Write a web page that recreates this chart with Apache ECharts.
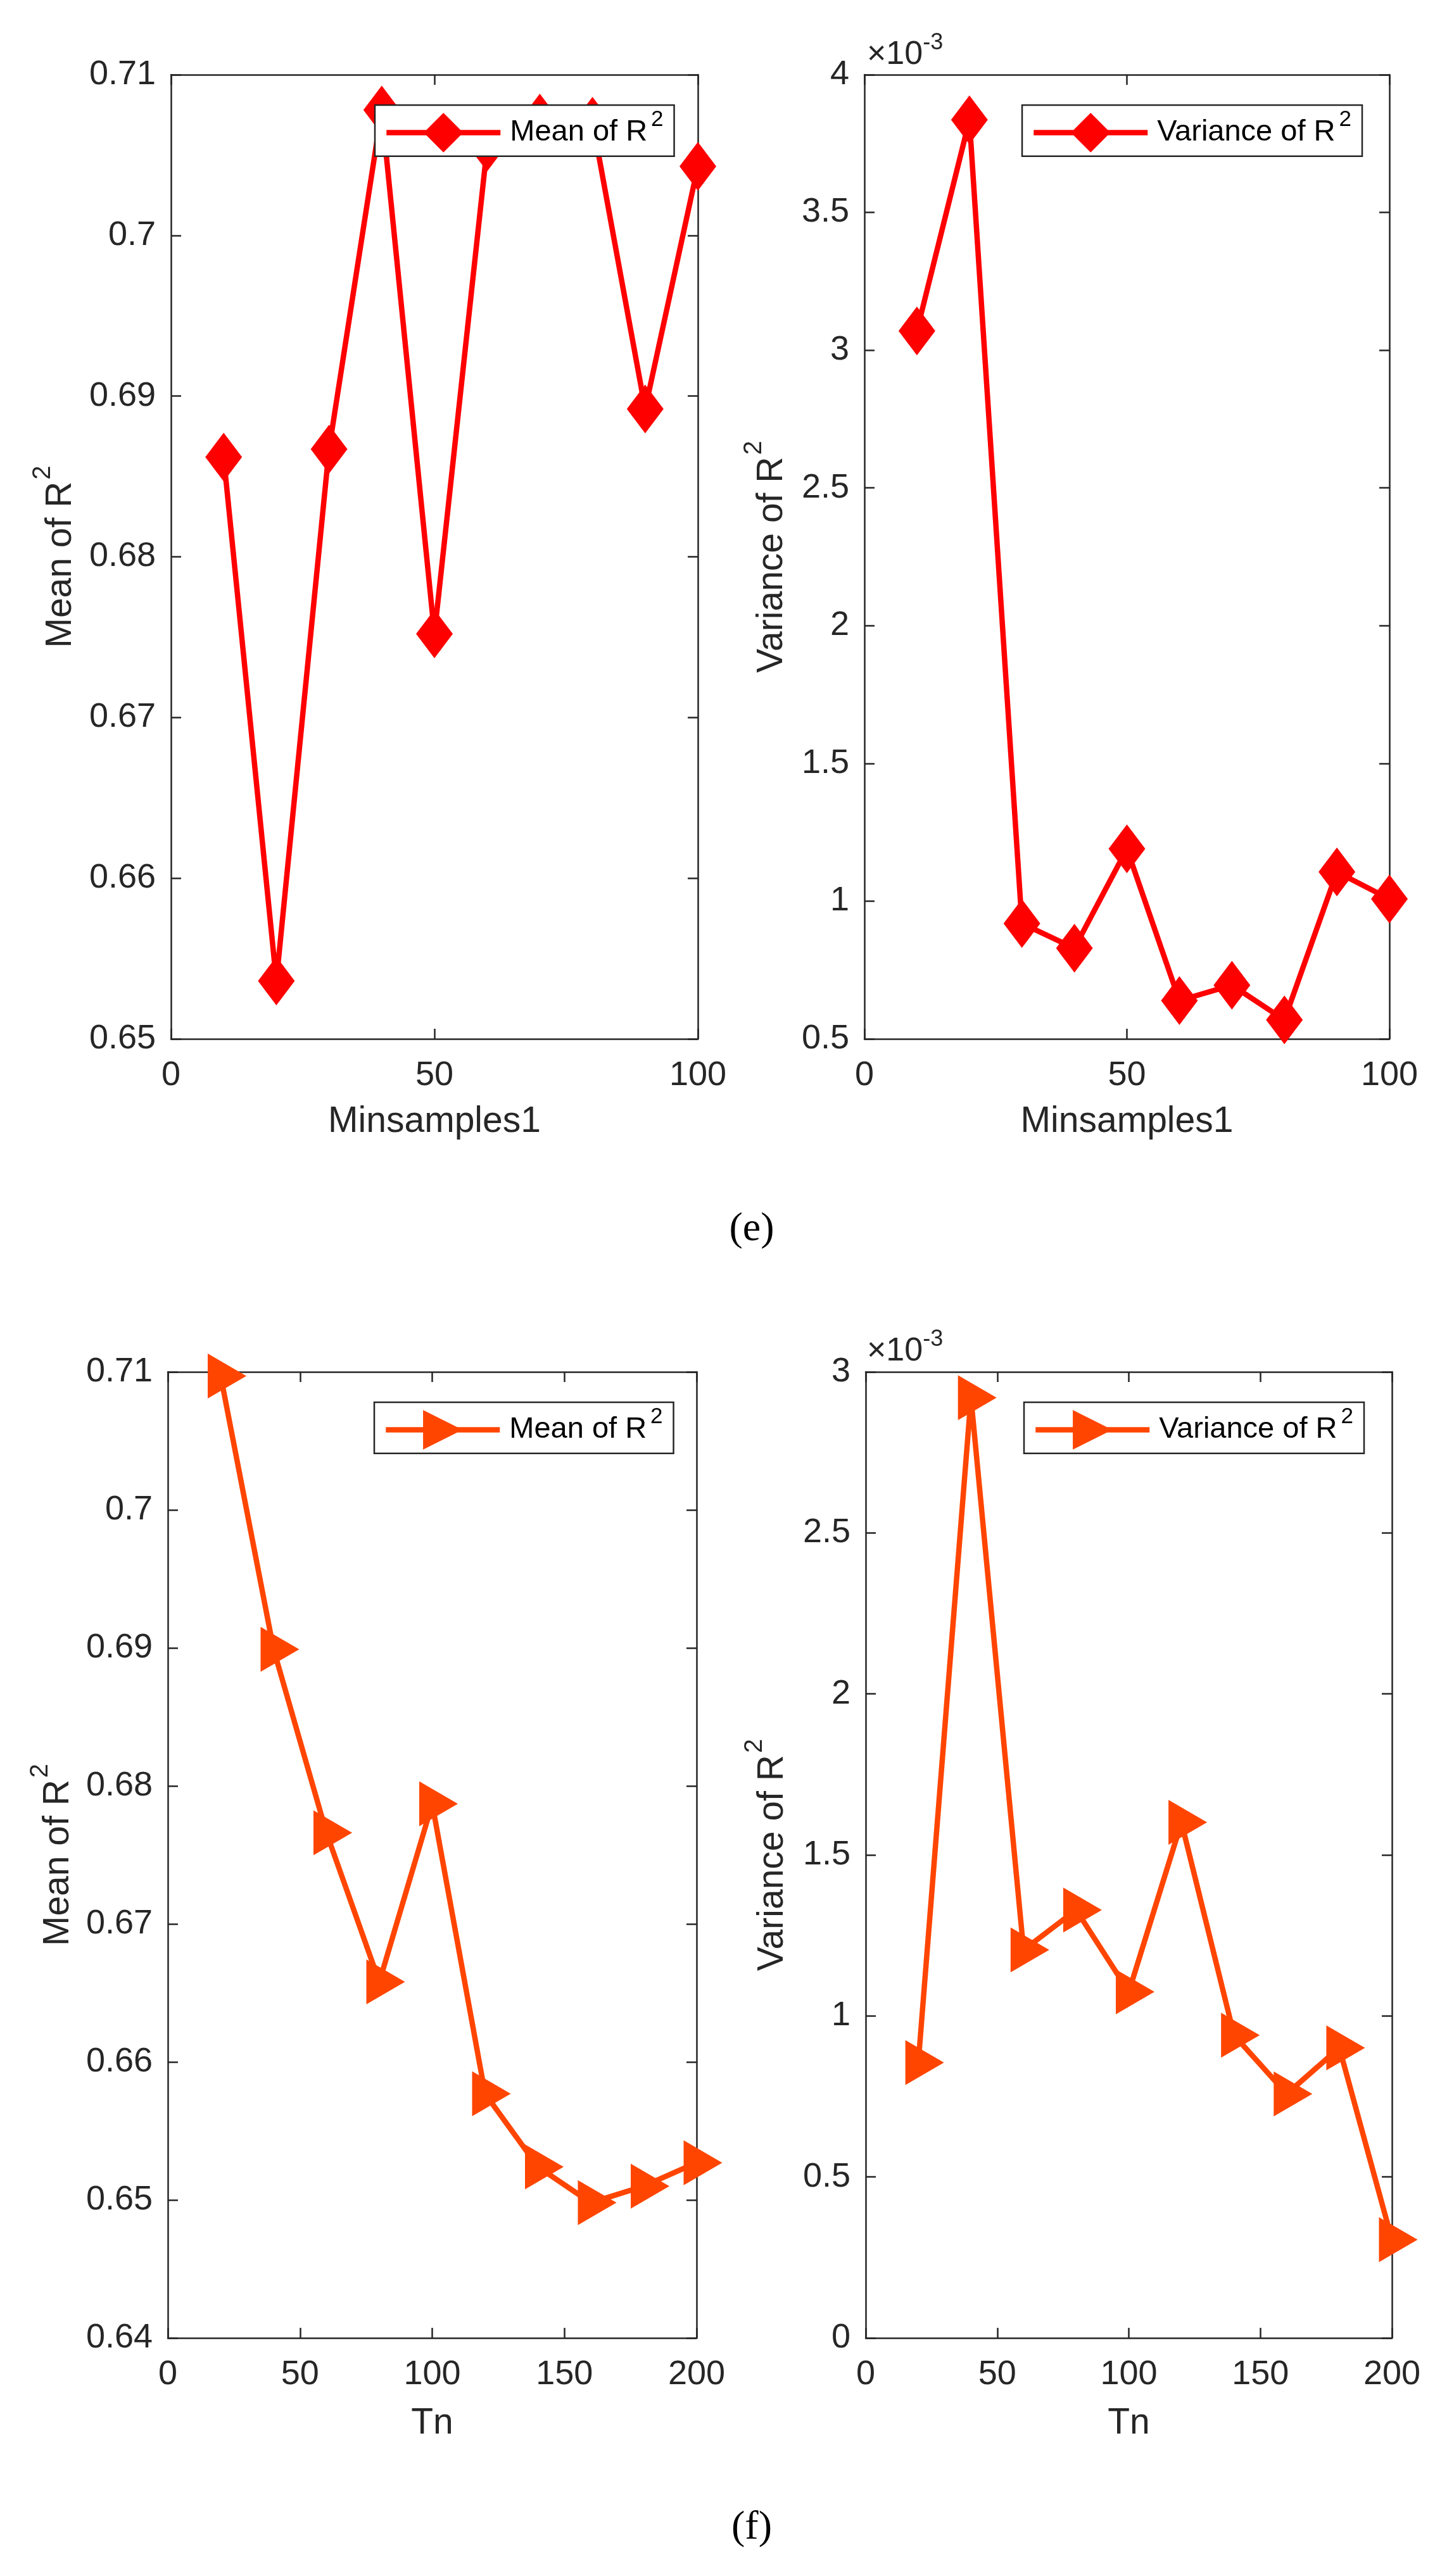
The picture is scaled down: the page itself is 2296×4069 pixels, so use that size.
<!DOCTYPE html>
<html><head><meta charset="utf-8">
<script src="https://cdn.jsdelivr.net/npm/echarts@6/dist/echarts.min.js"></script>
<style>html,body{margin:0;padding:0;background:#fff}#c{width:2296px;height:4069px}</style>
</head><body><div id="c"></div>
<script>
// ---------- data ----------
const minsamples = [10, 20, 30, 40, 50, 60, 70, 80, 90, 100];
const meanE = [0.6862, 0.6536, 0.6867, 0.7078, 0.6752, 0.7055, 0.7073, 0.7071, 0.6892, 0.7043];
const varE = [3.07, 3.836, 0.919, 0.829, 1.19, 0.639, 0.695, 0.569, 1.106, 1.008]; // x10^-3
const tn = [20, 40, 60, 80, 100, 120, 140, 160, 180, 200];
const meanF = [0.7097, 0.6899, 0.6766, 0.6658, 0.6787, 0.6577, 0.6524, 0.6498, 0.6510, 0.6527];
const varF = [0.855, 2.92, 1.205, 1.329, 1.075, 1.601, 0.94, 0.758, 0.901, 0.305]; // x10^-3

const xTicksE = [0, 50, 100];
const xTicksF = [0, 50, 100, 150, 200];
const yTicksMeanE = [0.65, 0.66, 0.67, 0.68, 0.69, 0.70, 0.71];
const yTicksVarE = [0.5, 1, 1.5, 2, 2.5, 3, 3.5, 4];
const yTicksMeanF = [0.64, 0.65, 0.66, 0.67, 0.68, 0.69, 0.70, 0.71];
const yTicksVarF = [0, 0.5, 1, 1.5, 2, 2.5, 3];

const xNameE = 'Minsamples1';
const xNameF = 'Tn';
const yNameMean = 'Mean of R';
const yNameVar = 'Variance of R';
const panelLabels = ['(e)', '(f)'];
const expLabel = '×10';
const expSup = '-3';

// ---------- style ----------
const FONT = '"Liberation Sans", Arial, Helvetica, sans-serif';
const SERIF = '"Liberation Serif", "Times New Roman", serif';
const AX = '#262626';
const RED = '#FF0000';
const ORANGE = '#FF4500';

const panels = [
  {grid: {left: 270, top: 118, width: 832, height: 1523}, x: minsamples, y: meanE, xt: xTicksE, yt: yTicksMeanE,
   xName: xNameE, yName: yNameMean, yGap: 125, xGap: 103, color: RED, sym: 'diamond', name: 'Mean of R2 (e)',
   legend: {left: 592, top: 166}},
  {grid: {left: 1365, top: 118, width: 829, height: 1523}, x: minsamples, y: varE, xt: xTicksE, yt: yTicksVarE,
   xName: xNameE, yName: yNameVar, yGap: 97, xGap: 103, color: RED, sym: 'diamond', name: 'Variance of R2 (e)',
   legend: {left: 1614, top: 166}},
  {grid: {left: 265, top: 2167, width: 835, height: 1526}, x: tn, y: meanF, xt: xTicksF, yt: yTicksMeanF,
   xName: xNameF, yName: yNameMean, yGap: 124, xGap: 107, color: ORANGE, sym: 'tri', name: 'Mean of R2 (f)',
   legend: {left: 591, top: 2215}},
  {grid: {left: 1367, top: 2167, width: 831, height: 1526}, x: tn, y: varF, xt: xTicksF, yt: yTicksVarF,
   xName: xNameF, yName: yNameVar, yGap: 98, xGap: 107, color: ORANGE, sym: 'tri', name: 'Variance of R2 (f)',
   legend: {left: 1617, top: 2215}}
];

const grids = [], xAxes = [], yAxes = [], series = [], legends = [];
const lineAx = {show: true, onZero: false, lineStyle: {color: AX, width: 2.5}};
const tickAx = {show: true, inside: true, length: 16, lineStyle: {color: AX, width: 2.5}};

panels.forEach((p, i) => {
  grids.push(Object.assign({containLabel: false}, p.grid));
  const xr = {min: p.xt[0], max: p.xt[p.xt.length - 1], interval: p.xt[1] - p.xt[0]};
  const yr = {min: p.yt[0], max: p.yt[p.yt.length - 1], interval: +(p.yt[1] - p.yt[0]).toFixed(4)};
  xAxes.push(Object.assign({type: 'value', gridIndex: i, position: 'bottom', axisLine: lineAx, axisTick: tickAx,
    splitLine: {show: false},
    axisLabel: {show: true, margin: 31, fontSize: 54, fontFamily: FONT, color: AX},
    name: p.xName, nameLocation: 'middle', nameGap: p.xGap,
    nameTextStyle: {fontSize: 57, fontFamily: FONT, color: AX}}, xr));
  xAxes.push(Object.assign({type: 'value', gridIndex: i, position: 'top', axisLine: lineAx, axisTick: tickAx,
    splitLine: {show: false}, axisLabel: {show: false}}, xr));
  yAxes.push(Object.assign({type: 'value', gridIndex: i, position: 'left', axisLine: lineAx, axisTick: tickAx,
    splitLine: {show: false},
    axisLabel: {show: true, margin: 24, fontSize: 54, fontFamily: FONT, color: AX},
    name: '{n|' + p.yName + '}{s|2}', nameLocation: 'middle', nameRotate: 90, nameGap: p.yGap,
    nameTextStyle: {rich: {
      n: {fontSize: 57, lineHeight: 97, fontFamily: FONT, color: AX},
      s: {fontSize: 40, lineHeight: 40, verticalAlign: 'top', fontFamily: FONT, color: AX, padding: [0, 0, 0, 3]}
    }}}, yr));
  yAxes.push(Object.assign({type: 'value', gridIndex: i, position: 'right', axisLine: lineAx, axisTick: tickAx,
    splitLine: {show: false}, axisLabel: {show: false}}, yr));

  const s = {
    type: 'line', name: p.name, xAxisIndex: 2 * i, yAxisIndex: 2 * i,
    data: p.x.map((xv, k) => [xv, p.y[k]]),
    lineStyle: {color: p.color, width: 8.5}, itemStyle: {color: p.color},
    clip: false, z: 3, animation: false, showSymbol: true
  };
  if (p.sym === 'diamond') {
    s.symbol = 'diamond'; s.symbolSize = [58, 77];
  } else {
    s.symbol = 'triangle'; s.symbolRotate = -90; s.symbolSize = [71, 61]; s.symbolOffset = [10, 0];
  }
  series.push(s);

  const txt = p.name.indexOf('Mean') === 0 ? yNameMean : yNameVar;
  legends.push({
    left: p.legend.left, top: p.legend.top, orient: 'horizontal', data: [p.name], selectedMode: false,
    formatter: () => '{n|' + txt + '}{s|2}',
    itemWidth: 180, itemHeight: 78, itemGap: 0, padding: [6, 17, 6, 14],
    borderColor: AX, borderWidth: 2.5, backgroundColor: '#fff', borderRadius: 0, z: 10,
    lineStyle: {width: 8.5, color: p.color},
    itemStyle: {color: p.color},
    textStyle: {rich: {
      n: {fontSize: 47, lineHeight: 75, fontFamily: FONT, color: '#000', padding: [0, 0, 0, 10]},
      s: {fontSize: 35, lineHeight: 35, verticalAlign: 'top', fontFamily: FONT, color: '#000', padding: [0, 0, 0, 6]}
    }}
  });
});

const expRich = {
  a: {fontSize: 52, lineHeight: 74, fontFamily: FONT, fill: AX, color: AX},
  b: {fontSize: 36, lineHeight: 36, verticalAlign: 'top', fontFamily: FONT, fill: AX, color: AX}
};

const graphic = [
  {type: 'text', x: 1369, y: 87, z: 20, style: {text: '{a|' + expLabel + '}{b|' + expSup + '}', rich: expRich,
    align: 'left', verticalAlign: 'middle', fill: AX}},
  {type: 'text', x: 1369, y: 2135, z: 20, style: {text: '{a|' + expLabel + '}{b|' + expSup + '}', rich: expRich,
    align: 'left', verticalAlign: 'middle', fill: AX}},
  {type: 'text', x: 1187, y: 1942, z: 20, style: {text: panelLabels[0], fontSize: 64, fontFamily: SERIF,
    align: 'center', verticalAlign: 'middle', fill: '#000'}},
  {type: 'text', x: 1187, y: 3993, z: 20, style: {text: panelLabels[1], fontSize: 64, fontFamily: SERIF,
    align: 'center', verticalAlign: 'middle', fill: '#000'}}
];

const chart = echarts.init(document.getElementById('c'), null, {renderer: 'canvas'});
chart.setOption({
  backgroundColor: '#fff',
  animation: false,
  grid: grids,
  xAxis: xAxes,
  yAxis: yAxes,
  legend: legends,
  series: series,
  graphic: graphic
});
</script>
</body></html>
